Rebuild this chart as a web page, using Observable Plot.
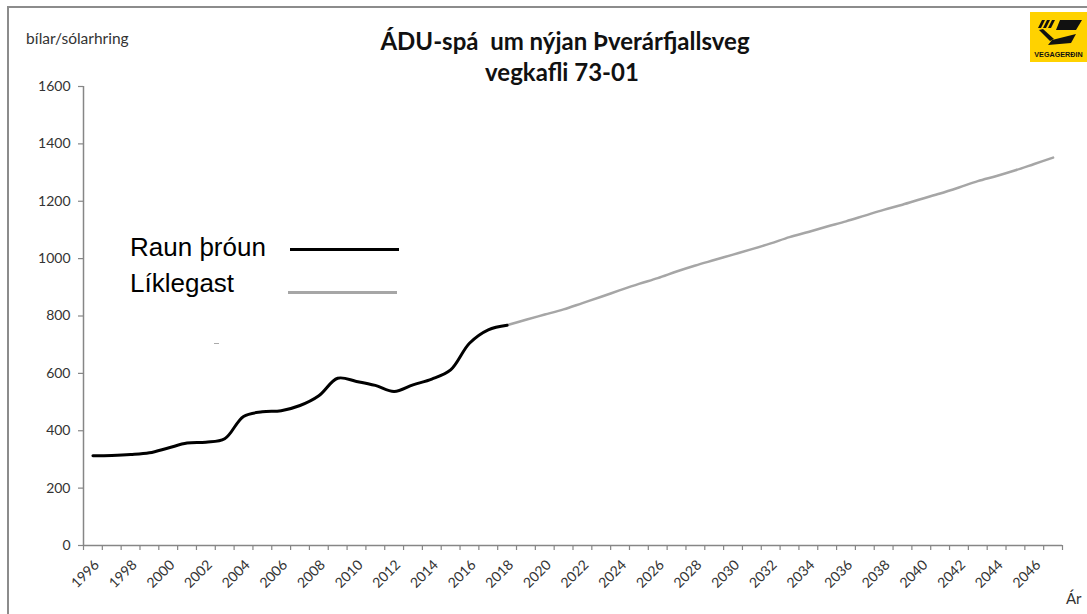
<!DOCTYPE html>
<html>
<head>
<meta charset="utf-8">
<script src="https://cdn.jsdelivr.net/npm/d3@7"></script>
<script src="https://cdn.jsdelivr.net/npm/@observablehq/plot@0.6"></script>
<style>
  html, body { margin: 0; padding: 0; background: #fff; overflow: hidden; }
  #wrap { position: relative; width: 1087px; height: 614px; font-family: Lato, "Open Sans", sans-serif; }
  #chart { position: absolute; left: 0; top: 0; }
  .abs { position: absolute; white-space: nowrap; }
</style>
</head>
<body>
<div id="wrap">
  <div class="abs" style="left:7px;top:6px;width:1200px;height:800px;border:2.5px solid #8c8c8c;box-sizing:border-box;"></div>
  <div id="chart"></div>
  <div class="abs" id="t1" style="left:0;width:1130px;top:26px;text-align:center;font-weight:700;font-size:24px;color:#111;">ÁDU-spá&nbsp; um nýjan Þverárfjallsveg</div>
  <div class="abs" id="t2" style="left:0;width:1124px;top:57px;text-align:center;font-weight:700;font-size:24px;color:#111;">vegkafli 73-01</div>
  <div class="abs" style="left:26px;top:29px;font-size:15.5px;color:#333;">bílar/sólarhring</div>
  <div class="abs" style="left:1066px;top:589px;font-size:15px;color:#333;">Ár</div>
  <div class="abs" id="leg1" style="left:130px;top:232px;font-family:'Liberation Sans',Arial,sans-serif;font-size:26px;color:#000;line-height:30px;">Raun þróun</div>
  <div class="abs" id="leg2" style="left:130px;top:268px;font-family:'Liberation Sans',Arial,sans-serif;font-size:26px;color:#000;line-height:30px;">Líklegast</div>
  <div class="abs" style="left:290px;top:247.5px;width:109px;height:3px;background:#000;"></div>
  <div class="abs" style="left:288px;top:291px;width:109px;height:3px;background:#a6a6a6;"></div>
  <div class="abs" style="left:214px;top:343px;width:5px;height:1px;background:#aaa;"></div>
  <div class="abs" style="left:1030px;top:12px;width:57px;height:50px;background:#ffd200;">
    <svg width="57" height="50" viewBox="0 0 57 50">
      <g fill="#111">
        <polygon points="12,8 15,8 11,16 8,16"/>
        <polygon points="17,8 20,8 16,16 13,16"/>
        <polygon points="22,8 25,8 21,16 18,16"/>
        <polygon points="30,8 52,8 46,18 26,18"/>
        <polygon points="9,18 13,17 24,27 20,29"/>
        <polygon points="22,28 46,22 41,31 18,33"/>
      </g>
      <text x="28.5" y="45" text-anchor="middle" font-family="'Liberation Sans',Arial,sans-serif" font-weight="700" font-size="7.2" fill="#111">VEGAGERÐIN</text>
    </svg>
  </div>
</div>
<script>
// ---- data ----
const actualYears = [1996,1997,1998,1999,2000,2001,2002,2003,2004,2005,2006,2007,2008,2009,2010,2011,2012,2013,2014,2015,2016,2017,2018];
const actualValues = [313,314,317,323,340,357,360,372,450,466,470,488,522,583,572,558,537,560,580,612,705,752,768];
const forecastYears = [2018,2019,2020,2021,2022,2023,2024,2025,2026,2027,2028,2029,2030,2031,2032,2033,2034,2035,2036,2037,2038,2039,2040,2041,2042,2043,2044,2045,2046,2047];
const forecastValues = [768,787,805,823,845,867,890,912,932,955,976,995,1014,1033,1053,1075,1093,1112,1130,1150,1170,1188,1208,1227,1248,1270,1288,1308,1330,1352];
const categoryYears = d3.range(1996, 2048);           // categories on the axis
const yearLabels = d3.range(1996, 2047, 2);           // labelled years
const yTicks = [0,200,400,600,800,1000,1200,1400,1600];

const actual = actualYears.map((y, i) => ({year: y, value: actualValues[i]}));
const forecast = forecastYears.map((y, i) => ({year: y, value: forecastValues[i]}));
const bounds = [...categoryYears.map(y => y - 0.5), categoryYears[categoryYears.length - 1] + 0.5];

const axisColor = "#868686";
const chart = Plot.plot({
  width: 1087,
  height: 614,
  marginLeft: 83,
  marginRight: 25,
  marginTop: 86,
  marginBottom: 69,
  style: {background: "transparent", fontFamily: "Lato, 'Open Sans', sans-serif", color: "#333"},
  x: {type: "linear", domain: [bounds[0], bounds[bounds.length - 1]]},
  y: {domain: [0, 1600]},
  marks: [
    Plot.axisY({ticks: yTicks, tickSize: 5, tickPadding: 8, fontSize: 14, stroke: axisColor, strokeWidth: 1.2, label: null, tickFormat: d => String(d)}),
    Plot.axisX({ticks: bounds, tickSize: 5, tickFormat: () => "", stroke: axisColor, strokeWidth: 1.2, label: null}),
    Plot.axisX({ticks: yearLabels, tickSize: 0, tickPadding: 13, tickRotate: -45, fontSize: 14, dx: 4, dy: 4, label: null, tickFormat: d => String(d)}),
    Plot.ruleX([bounds[0]], {stroke: axisColor, strokeWidth: 1.5}),
    Plot.ruleY([0], {stroke: axisColor, strokeWidth: 1.5}),
    Plot.line(forecast, {x: "year", y: "value", stroke: "#a6a6a6", strokeWidth: 2.5, curve: "catmull-rom"}),
    Plot.line(actual, {x: "year", y: "value", stroke: "#000", strokeWidth: 3, curve: "catmull-rom"})
  ]
});
document.getElementById("chart").appendChild(chart);
</script>
</body>
</html>
